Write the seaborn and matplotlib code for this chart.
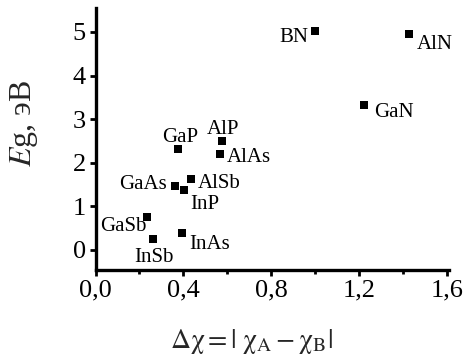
import matplotlib
matplotlib.use("Agg")
import matplotlib.pyplot as plt
import seaborn as sns
import pandas as pd
from matplotlib.ticker import MultipleLocator, FuncFormatter

compounds = ["BN", "AlN", "GaN", "GaP", "AlP", "AlAs", "GaAs", "AlSb", "InP", "GaSb", "InSb", "InAs"]
delta_chi = [1.00, 1.427, 1.222, 0.374, 0.577, 0.566, 0.364, 0.434, 0.404, 0.236, 0.263, 0.395]
band_gap = [5.02, 4.95, 3.33, 2.31, 2.50, 2.20, 1.47, 1.62, 1.38, 0.76, 0.24, 0.39]

# label placement (pixel offsets, alignment)
label_dx = [-7, 8, 10, 3, 1, 7, -9, 7, 6, -1, 1, 7]
label_dy = [-4, -8, -5, 14, 14, -1, 4, -2, -12, -7, -16, -9]
label_ha = ["right", "left", "left", "center", "center", "left", "right", "left", "left", "right", "center", "left"]

df = pd.DataFrame({"dchi": delta_chi, "eg": band_gap, "name": compounds})

sns.set_theme(style="ticks")
plt.rcParams["font.family"] = ["Liberation Serif", "DejaVu Serif"]
plt.rcParams["mathtext.fontset"] = "stix"

fig = plt.figure(figsize=(4.67, 3.62), dpi=100)
ax = fig.add_axes([95.5 / 467, 1 - 270 / 362, (449 - 95.5) / 467, (270 - 8) / 362])

sns.scatterplot(data=df, x="dchi", y="eg", marker="s", s=40, color="black",
                edgecolor="black", linewidth=0, ax=ax, legend=False, zorder=3)

for name, x, y, dx, dy, ha in zip(compounds, delta_chi, band_gap, label_dx, label_dy, label_ha):
    ax.annotate(name, (x, y), xytext=(dx, dy), textcoords="offset pixels",
                ha=ha, va="center_baseline", fontsize=15, color="black")

ax.set_xlim(0, 1.61)
ax.set_ylim(-0.46, 5.55)
ax.xaxis.set_major_locator(MultipleLocator(0.4))
ax.xaxis.set_minor_locator(MultipleLocator(0.2))
ax.yaxis.set_major_locator(MultipleLocator(1))
ax.xaxis.set_major_formatter(FuncFormatter(lambda v, p: f"{v:.1f}".replace(".", ",")))

for s in ["top", "right"]:
    ax.spines[s].set_visible(False)
for s in ["left", "bottom"]:
    ax.spines[s].set_linewidth(2.4)
    ax.spines[s].set_color("black")

ax.tick_params(axis="both", which="major", direction="out", length=4, width=2,
               labelsize=19, colors="black", pad=3)
ax.tick_params(axis="x", which="minor", direction="out", length=3, width=2, colors="black")
ax.set_xlabel("")
ax.set_ylabel("")
fig.text(251 / 467, 1 - 341 / 362,
         r"$\mathrm{\Delta\chi} = |\;\mathrm{\chi}_{\mathrm{A}} - \mathrm{\chi}_{\mathrm{B}}|$",
         ha="center", va="center", fontsize=20)
fig.text(24 / 467, 1 - 123 / 362, r"$E$g, эВ", rotation=90, ha="center", va="center", fontsize=23)

fig.savefig("out.png", dpi=100)
